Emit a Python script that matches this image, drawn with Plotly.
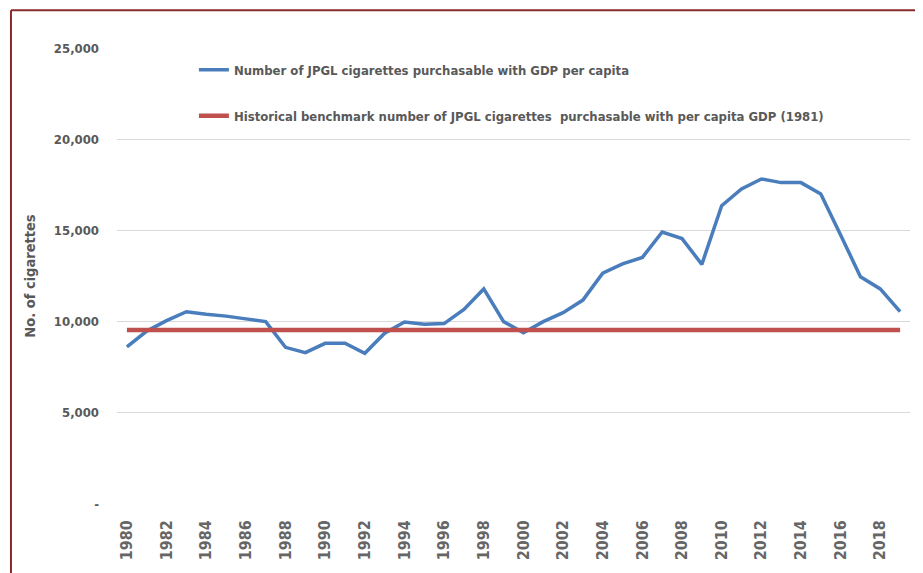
import plotly.graph_objects as go

years = list(range(1980, 2020))
cigarettes = [8620, 9480, 10050, 10540, 10400, 10300, 10150, 10000, 8590, 8300,
              8810, 8810, 8260, 9360, 9980, 9850, 9890, 10670, 11790, 10000,
              9390, 10000, 10490, 11180, 12650, 13160, 13520, 14910, 14550, 13140,
              16350, 17270, 17820, 17620, 17620, 17000, 14750, 12460, 11790, 10550]
benchmark_value = 9540
benchmark = [benchmark_value] * len(years)

y_tickvals = [0, 5000, 10000, 15000, 20000, 25000]
y_ticktext = ["-", "5,000", "10,000", "15,000", "20,000", "25,000"]
x_tickvals = list(range(1980, 2020, 2))

series_name = "Number of JPGL cigarettes purchasable with GDP per capita"
bench_name = "Historical benchmark number of JPGL cigarettes  purchasable with per capita GDP (1981)"

FONT = "DejaVu Sans Condensed, Liberation Sans Narrow, sans-serif"
TXT = "#595959"

fig = go.Figure()
fig.add_trace(go.Scatter(x=years, y=cigarettes, mode="lines", name=series_name,
                         line=dict(color="#4a7dbb", width=3.5), legendgroup="a"))
fig.add_trace(go.Scatter(x=years, y=benchmark, mode="lines", name=bench_name,
                         line=dict(color="#c0504d", width=4.5), legendgroup="b"))

fig.update_layout(
    width=915, height=565,
    margin=dict(l=109, r=13, t=40, b=69, autoexpand=False),
    paper_bgcolor="white", plot_bgcolor="white",
    font=dict(family=FONT, color=TXT, size=13),
    showlegend=True,
    legend=dict(x=0.097, y=0.985, xanchor="left", yanchor="top",
                bgcolor="rgba(0,0,0,0)", traceorder="grouped", tracegroupgap=26,
                font=dict(family=FONT, size=13, color=TXT, weight="bold")),
    xaxis=dict(range=[1979.5, 2019.5], tickmode="array", tickvals=x_tickvals,
               tickangle=-90, showgrid=False, zeroline=False, showline=False,
               ticks="", ticklabelstandoff=12,
               tickfont=dict(family=FONT, size=16, color="#666666", weight="bold")),
    yaxis=dict(range=[0, 25000], tickmode="array", tickvals=y_tickvals,
               ticktext=y_ticktext, showgrid=True, gridcolor="#d9d9d9", gridwidth=1,
               zeroline=False, showline=False, ticks="", ticklabelstandoff=17,
               tickfont=dict(family=FONT, size=13, color=TXT, weight="bold"),
               title=dict(text="No. of cigarettes", standoff=14,
                          font=dict(family=FONT, size=14.5, color=TXT, weight="bold"))),
    shapes=[
        dict(type="line", xref="paper", yref="paper", x0=-0.1337, x1=-0.1337, y0=1.083, y1=-0.2,
             line=dict(color="#8b2a2a", width=2)),
        dict(type="line", xref="paper", yref="paper", x0=-0.1337, x1=1.0088, y0=1.083, y1=1.083,
             line=dict(color="#8b2a2a", width=2)),
        dict(type="line", xref="paper", yref="paper", x0=1.0088, x1=1.0088, y0=1.083, y1=-0.2,
             line=dict(color="#8b2a2a", width=2)),
    ],
)

fig.write_html("out.html")
